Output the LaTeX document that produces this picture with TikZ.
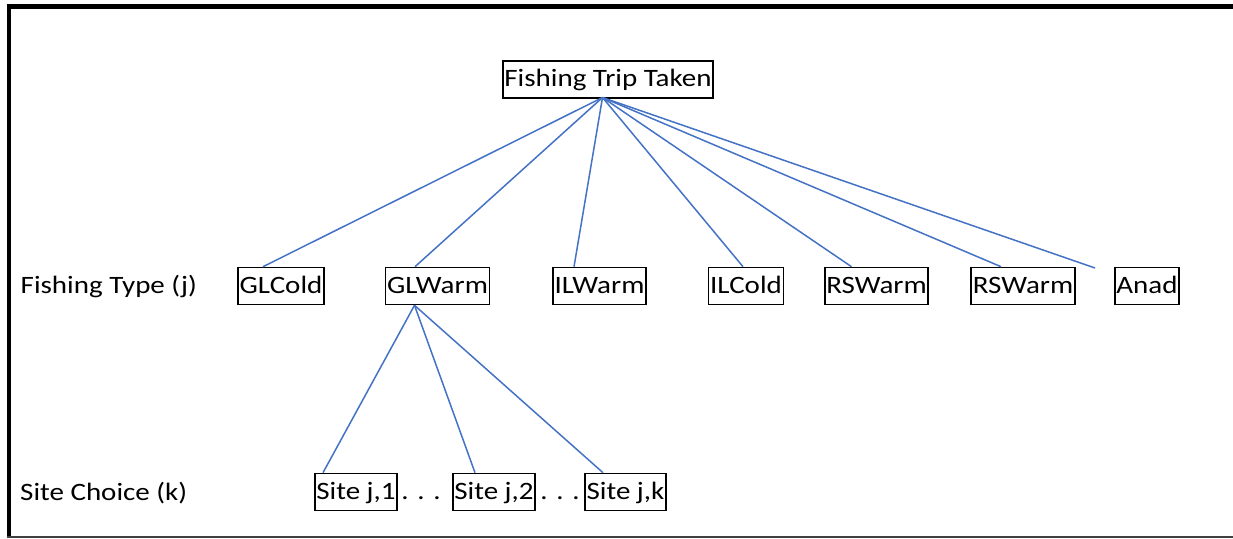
\documentclass[tikz,border=0pt]{standalone}
\usepackage{fontspec}
\setmainfont{Carlito}[FakeStretch=1.16]
\begin{document}
\begin{tikzpicture}[x=1pt,y=-1pt,
  box/.style={draw=black, line width=1.6pt, inner xsep=1.5pt, inner ysep=0pt,
    minimum height=37pt, text height=19pt, text depth=5pt, anchor=center,
    font=\fontsize{25}{30}\selectfont},
  lbl/.style={anchor=west, inner sep=0pt, text height=19pt, text depth=5pt,
    font=\fontsize{25}{30}\selectfont},
  dotsl/.style={anchor=center, inner sep=0pt, text height=19pt, text depth=5pt,
    font=\fontsize{25}{30}\selectfont},
  link/.style={draw={rgb,255:red,68;green,114;blue,196}, line width=1.5pt}
]
\useasboundingbox (0,0) rectangle (1233,538);

% outer frame (top, left, bottom)
\draw[line width=5pt, black] (6.5,6.8) -- (1233,6.8);
\draw[line width=4.4pt, black] (8.8,4.3) -- (8.8,538);
\draw[line width=1.6pt, black!75] (6.5,537) -- (1233,537);

% root
\node[box] (root) at (608,79.5) {Fishing Trip Taken};
\coordinate (rootfoot) at (602.5,97.5);

% fishing types
\node[lbl] (typelbl) at (20.5,286) {Fishing Type (j)};
\node[box] (glcold) at (281,286) {GLCold};
\node[box] (glwarm) at (437.5,286) {GLWarm};
\node[box] (ilwarm) at (599.5,286) {ILWarm};
\node[box] (ilcold) at (746,286) {ILCold};
\node[box] (rswarma) at (876.5,286) {RSWarm};
\node[box] (rswarmb) at (1023,286) {RSWarm};
\node[box] (anad) at (1147,286) {Anad};
\coordinate (anadend) at (1095,268);

% site choices
\node[lbl] (sitelbl) at (20,493) {Site Choice (k)};
\node[box] (sitea) at (356,492) {Site j,1};
\node[box] (siteb) at (494,492) {Site j,2};
\node[box] (sitek) at (625.5,492) {Site j,k};
\node[dotsl] (dotsa) at (421,492) {. . .};
\node[dotsl] (dotsb) at (560,492) {. . .};

% links from the root
\draw[link] (rootfoot) -- ([xshift=-18pt]glcold.north);
\draw[link] (rootfoot) -- ([xshift=-22.5pt]glwarm.north);
\draw[link] (rootfoot) -- ([xshift=-25.5pt]ilwarm.north);
\draw[link] (rootfoot) -- ([xshift=-3pt]ilcold.north);
\draw[link] (rootfoot) -- ([xshift=-25pt]rswarma.north);
\draw[link] (rootfoot) -- ([xshift=-22pt]rswarmb.north);
\draw[link] (rootfoot) -- (anadend);

% links to the sites
\coordinate (glfoot) at ([xshift=-23pt]glwarm.south);
\draw[link] (glfoot) -- ([xshift=-33pt]sitea.north);
\draw[link] (glfoot) -- ([xshift=-19pt]siteb.north);
\draw[link] (glfoot) -- ([xshift=-22.5pt]sitek.north);
\end{tikzpicture}
\end{document}
